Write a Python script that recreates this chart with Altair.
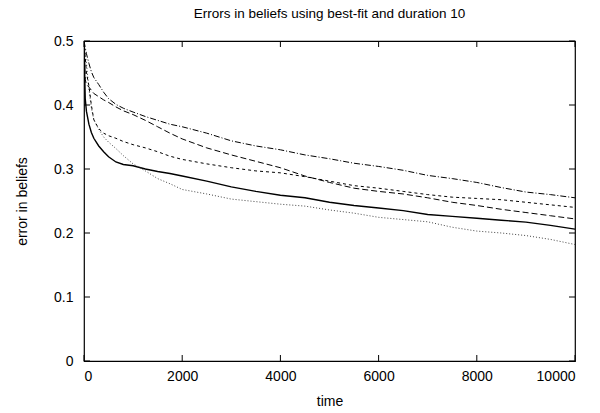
import altair as alt
import pandas as pd

time = [0, 25, 50, 100, 150, 200, 300, 400, 500, 650, 800, 1000, 1250, 1500, 1750, 2000,
        2500, 3000, 3500, 4000, 4500, 5000, 5500, 6000, 6500, 7000, 7500, 8000, 8500, 9000, 9500, 10000]

solid = [0.5, 0.41, 0.39, 0.37, 0.357, 0.348, 0.336, 0.327, 0.319, 0.311, 0.307, 0.305, 0.300, 0.296, 0.293, 0.289,
         0.281, 0.272, 0.265, 0.259, 0.255, 0.248, 0.243, 0.239, 0.235, 0.229, 0.226, 0.223, 0.220, 0.217, 0.212, 0.206]
dotted = [0.5, 0.48, 0.465, 0.425, 0.395, 0.377, 0.362, 0.350, 0.342, 0.332, 0.321, 0.308, 0.297, 0.285, 0.277, 0.268,
          0.261, 0.253, 0.249, 0.245, 0.242, 0.236, 0.231, 0.2245, 0.221, 0.2175, 0.209, 0.203, 0.200, 0.196, 0.190, 0.182]
short_dash = [0.5, 0.475, 0.45, 0.43, 0.40, 0.377, 0.363, 0.356, 0.352, 0.348, 0.343, 0.338, 0.333, 0.327, 0.320, 0.315,
              0.308, 0.302, 0.297, 0.294, 0.288, 0.281, 0.274, 0.270, 0.265, 0.260, 0.256, 0.254, 0.252, 0.248, 0.244, 0.240]
long_dash = [0.5, 0.44, 0.432, 0.428, 0.423, 0.418, 0.413, 0.408, 0.404, 0.397, 0.391, 0.385, 0.376, 0.366, 0.356, 0.347,
             0.333, 0.322, 0.312, 0.302, 0.289, 0.279, 0.270, 0.265, 0.261, 0.255, 0.248, 0.243, 0.237, 0.232, 0.227, 0.222]
dash_dot = [0.5, 0.49, 0.48, 0.465, 0.452, 0.443, 0.432, 0.420, 0.410, 0.401, 0.395, 0.389, 0.382, 0.376, 0.370, 0.366,
            0.356, 0.344, 0.336, 0.330, 0.322, 0.316, 0.309, 0.304, 0.298, 0.290, 0.285, 0.279, 0.271, 0.264, 0.260, 0.255]

x_ticks = [0, 2000, 4000, 6000, 8000, 10000]
y_ticks = [0, 0.1, 0.2, 0.3, 0.4, 0.5]

FONT = "Liberation Sans"
W, H = 491, 320
TICK = 6

series = [
    ("solid", solid, None, "#000000", 1.4),
    ("dotted", dotted, [1, 2], "#444444", 1.0),
    ("short", short_dash, [3, 3], "#000000", 1.0),
    ("long", long_dash, [6, 3], "#000000", 1.0),
    ("dashdot", dash_dot, [6, 2, 1, 2], "#000000", 1.0),
]

xscale = alt.Scale(domain=[0, 10000], nice=False, zero=False)
yscale = alt.Scale(domain=[0, 0.5], nice=False, zero=False)

xaxis = alt.Axis(title="time", values=x_ticks, format="d", tickSize=0, domain=False, grid=False,
                 labelFont=FONT, labelFontSize=14, labelColor="#000", labelPadding=8,
                 titleFont=FONT, titleFontSize=14, titleFontWeight="normal", titleColor="#000", titlePadding=11)
yaxis = alt.Axis(title="error in beliefs", values=y_ticks, tickSize=0, domain=False, grid=False,
                 labelExpr="datum.value == 0 ? '0' : format(datum.value, '.1f')",
                 labelFont=FONT, labelFontSize=14, labelColor="#000", labelPadding=11,
                 titleFont=FONT, titleFontSize=14, titleFontWeight="normal", titleColor="#000", titlePadding=24)

layers = []
for name, vals, dash, color, width in series:
    df = pd.DataFrame({"time": time, "error": vals})
    kw = dict(color=color, strokeWidth=width, clip=True)
    if dash:
        kw["strokeDash"] = dash
    layers.append(alt.Chart(df).mark_line(**kw).encode(
        x=alt.X("time:Q", scale=xscale, axis=xaxis),
        y=alt.Y("error:Q", scale=yscale, axis=yaxis),
    ))

xt = pd.DataFrame({"time": x_ticks})
yt = pd.DataFrame({"error": y_ticks})
tick_style = dict(color="#000", strokeWidth=1)
layers += [
    alt.Chart(xt).mark_rule(**tick_style).encode(x=alt.X("time:Q", scale=xscale, axis=xaxis), y=alt.value(H), y2=alt.value(H - TICK)),
    alt.Chart(xt).mark_rule(**tick_style).encode(x=alt.X("time:Q", scale=xscale, axis=xaxis), y=alt.value(0), y2=alt.value(TICK)),
    alt.Chart(yt).mark_rule(**tick_style).encode(y=alt.Y("error:Q", scale=yscale, axis=yaxis), x=alt.value(0), x2=alt.value(TICK)),
    alt.Chart(yt).mark_rule(**tick_style).encode(y=alt.Y("error:Q", scale=yscale, axis=yaxis), x=alt.value(W - TICK), x2=alt.value(W)),
]

chart = alt.layer(*layers).properties(
    width=W, height=H,
    title=alt.TitleParams("Errors in beliefs using best-fit and duration 10", font=FONT, fontSize=13.5,
                          fontWeight="normal", color="#000", anchor="middle", offset=14),
    autosize=alt.AutoSizeParams(type="none"),
    padding={"left": 84, "top": 41, "right": 25, "bottom": 52},
    background="white",
).configure_view(stroke="#000", strokeWidth=1.2)

chart.save("out.html", embed_options={"renderer": "svg", "actions": False})
